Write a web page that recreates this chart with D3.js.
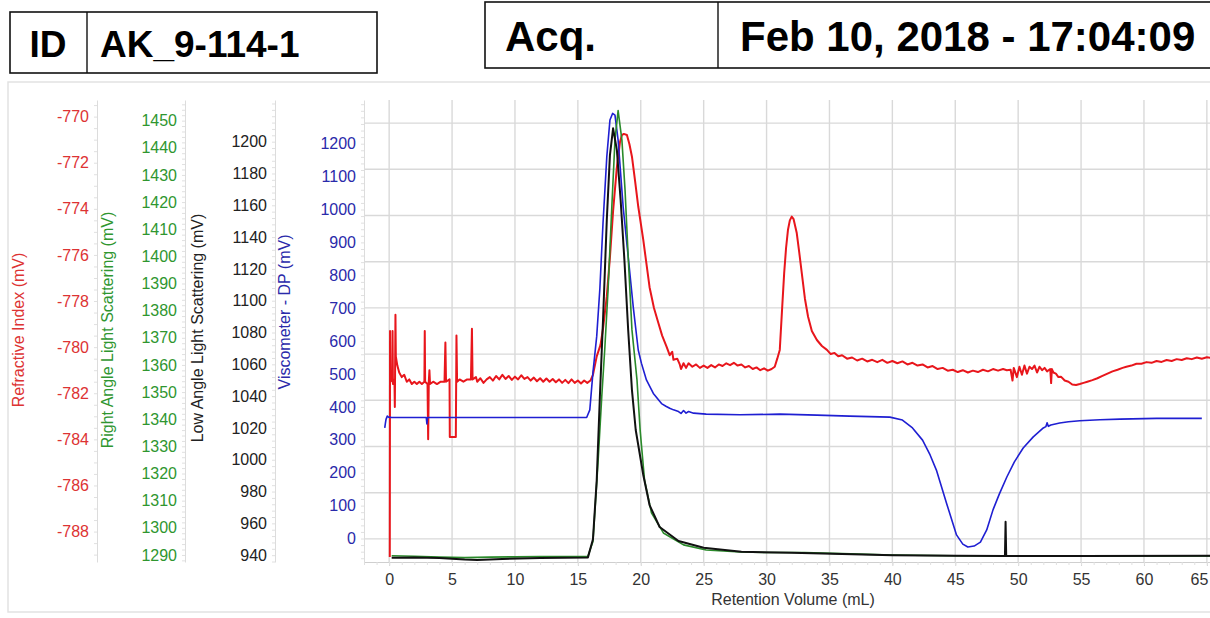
<!DOCTYPE html>
<html>
<head>
<meta charset="utf-8">
<script src="https://cdn.jsdelivr.net/npm/d3@7"></script>
<style>
body { margin: 0; background: #fff; }
svg { display: block; font-family: "Liberation Sans", Arial, sans-serif; }
</style>
</head>
<body>
<svg width="1210" height="618"></svg>
<script>
// header texts
var sampleId = "AK_9-114-1"
var acqDate = "Feb 10, 2018 - 17:04:09"

// tick labels for each axis
var xTicks = [0, 5, 10, 15, 20, 25, 30, 35, 40, 45, 50, 55, 60, 65]
var riTicks = [-788, -786, -784, -782, -780, -778, -776, -774, -772, -770]
var ralsTicks = [1290, 1300, 1310, 1320, 1330, 1340, 1350, 1360, 1370, 1380, 1390, 1400, 1410, 1420, 1430, 1440, 1450]
var lalsTicks = [940, 960, 980, 1000, 1020, 1040, 1060, 1080, 1100, 1120, 1140, 1160, 1180, 1200]
var viscTicks = [0, 100, 200, 300, 400, 500, 600, 700, 800, 900, 1000, 1100, 1200]
var gridRows = [0.5, 1.5, 2.5, 3.5, 4.5, 5.5, 6.5, 7.5, 8.5, 9.5]

// refractive index (mV) vs retention volume (mL)
var riData = [
  [0.05,-789.1],[0.07,-779.3],[0.1,-781.4],[0.25,-781.5],[0.27,-779.3],[0.3,-781.6],[0.42,-781.4],[0.45,-782.6],
  [0.47,-781.2],[0.5,-778.6],[0.53,-780.4],[0.65,-780.8],[0.8,-781.1],[1.0,-781.3],[1.2,-781.2],[1.4,-781.5],
  [1.6,-781.4],[1.8,-781.6],[2.0,-781.5],[2.2,-781.6],[2.4,-781.5],[2.6,-781.6],[2.8,-781.5],[2.83,-779.3],
  [2.86,-781.5],[3.05,-781.6],[3.1,-784.0],[3.15,-781.5],[3.2,-781.0],[3.25,-781.6],[3.5,-781.5],[3.8,-781.6],
  [4.1,-781.5],[4.4,-781.5],[4.47,-779.8],[4.52,-781.5],[4.8,-781.4],[4.82,-783.9],[5.3,-783.9],[5.35,-779.5],
  [5.4,-781.5],[5.6,-781.4],[5.9,-781.5],[6.2,-781.4],[6.5,-781.4],[6.58,-779.2],[6.63,-781.4],[6.9,-781.3],
  [7.0,-781.5],[7.25,-781.35],[7.5,-781.55],[7.75,-781.4],[8.0,-781.3],[8.25,-781.45],[8.5,-781.25],[8.75,-781.4],
  [9.0,-781.2],[9.25,-781.38],[9.5,-781.25],[9.75,-781.42],[10.0,-781.28],[10.25,-781.4],[10.5,-781.22],[10.75,-781.38],
  [11.0,-781.3],[11.25,-781.45],[11.5,-781.32],[11.75,-781.48],[12.0,-781.35],[12.25,-781.5],[12.5,-781.36],[12.75,-781.5],
  [13.0,-781.38],[13.25,-781.52],[13.5,-781.4],[13.75,-781.55],[14.0,-781.42],[14.25,-781.56],[14.5,-781.4],[14.75,-781.55],
  [15.0,-781.45],[15.25,-781.58],[15.5,-781.45],[15.75,-781.55],[16.0,-781.45],[16.2,-781.2],[16.5,-780.4],[16.8,-779.9],
  [17.0,-779.2],[17.3,-777.8],[17.55,-776.1],[17.8,-774.1],[18.1,-772.2],[18.35,-771.1],[18.5,-770.8],[18.65,-770.75],
  [18.9,-770.8],[19.1,-771.2],[19.3,-771.74],[19.55,-772.8],[19.8,-773.9],[20.2,-775.35],[20.7,-777.4],[21.05,-778.3],
  [21.4,-778.95],[21.7,-779.5],[22.05,-779.98],[22.3,-780.35],[22.5,-780.2],[22.6,-780.55],[22.9,-780.5],[23.1,-780.75],
  [23.2,-780.95],[23.4,-780.7],[23.6,-780.9],[23.8,-780.7],[24.1,-780.85],[24.4,-780.75],[24.7,-780.9],[25.0,-780.8],
  [25.3,-780.9],[25.6,-780.78],[25.9,-780.88],[26.2,-780.75],[26.5,-780.82],[26.8,-780.7],[27.1,-780.78],[27.4,-780.68],
  [27.7,-780.8],[28.0,-780.75],[28.3,-780.88],[28.6,-780.82],[28.9,-780.95],[29.2,-780.88],[29.5,-781.0],[29.8,-780.92],
  [30.1,-781.02],[30.4,-780.95],[30.65,-780.85],[30.85,-780.5],[31.05,-780.12],[31.25,-778.2],[31.4,-776.79],[31.55,-775.7],
  [31.7,-774.92],[31.85,-774.5],[32.0,-774.34],[32.15,-774.45],[32.4,-775.05],[32.6,-775.9],[32.8,-776.79],[33.05,-777.9],
  [33.3,-778.68],[33.6,-779.3],[34.0,-779.69],[34.4,-779.95],[34.8,-780.12],[35.1,-780.3],[35.4,-780.25],[35.7,-780.4],
  [36.0,-780.35],[36.4,-780.5],[36.8,-780.45],[37.2,-780.58],[37.6,-780.5],[38.0,-780.62],[38.4,-780.55],[38.8,-780.65],
  [39.2,-780.55],[39.6,-780.68],[40.0,-780.6],[40.4,-780.7],[40.8,-780.62],[41.2,-780.75],[41.6,-780.68],[42.0,-780.8],
  [42.4,-780.75],[42.8,-780.88],[43.2,-780.82],[43.6,-780.95],[44.0,-780.9],[44.4,-781.02],[44.8,-780.98],[45.2,-781.08],
  [45.6,-781.0],[46.0,-781.1],[46.4,-781.02],[46.8,-781.08],[47.2,-780.98],[47.6,-781.05],[48.0,-780.95],[48.4,-781.02],
  [48.8,-780.95],[49.1,-781.0],[49.4,-780.98],[49.55,-781.45],[49.65,-780.9],[49.9,-781.3],[50.1,-780.85],[50.3,-781.2],
  [50.5,-780.8],[50.7,-781.15],[50.9,-780.85],[51.1,-780.95],[51.3,-780.8],[51.5,-781.1],[51.7,-780.85],[51.9,-781.0],
  [52.1,-780.9],[52.3,-781.05],[52.55,-780.95],[52.62,-781.56],[52.68,-780.95],[52.8,-781.1],[53.0,-781.15],[53.2,-781.3],
  [53.4,-781.28],[53.7,-781.45],[54.0,-781.5],[54.3,-781.62],[54.6,-781.64],[54.9,-781.6],[55.2,-781.55],[55.5,-781.5],
  [55.9,-781.43],[56.3,-781.35],[56.7,-781.25],[57.1,-781.15],[57.5,-781.05],[57.9,-780.98],[58.3,-780.9],[58.6,-780.85],
  [59.0,-780.8],[59.4,-780.72],[59.8,-780.72],[60.2,-780.65],[60.6,-780.68],[61.0,-780.6],[61.4,-780.64],[61.8,-780.56],
  [62.2,-780.6],[62.6,-780.52],[63.0,-780.56],[63.4,-780.48],[63.8,-780.52],[64.2,-780.45],[64.6,-780.5],[65.0,-780.44],
  [65.3,-780.46]
]

// viscometer DP (mV)
var viscData = [
  [-0.35,336],[-0.3,350],[-0.25,362],[-0.15,372],[-0.05,369],[0.2,368],[1,368],[2,368],[2.95,368],[3.0,348],[3.05,368],
  [5,368],[8,368],[11,368],[14,368],[15.7,368],[15.95,391],[16.2,505],[16.5,615],[16.75,760],[17.0,959],[17.3,1160],
  [17.55,1272],[17.76,1292],[17.95,1287],[18.2,1211],[18.6,1008],[19.0,857],[19.4,705],[19.8,573],[20.05,533],[20.45,482],
  [21.0,441],[21.65,410],[22.0,402],[22.3,396],[22.6,391],[23.0,386],[23.2,380],[23.4,389],[23.6,381],[23.8,386],[24.2,381],
  [25.2,378],[27.9,376],[31.05,378],[34,375],[36.6,372],[39.8,369],[40.8,360],[41.6,336],[42.4,299],[43.0,254],[43.5,208],
  [44.3,108],[45.1,11],[45.6,-17],[46.0,-26],[46.5,-23],[47.0,-11],[47.5,26],[48.0,87],[48.5,135],[49.1,187],[49.7,233],
  [50.4,275],[51.2,309],[52.0,336],[52.2,340],[52.3,352],[52.4,341],[52.6,345],[53.3,351],[54.0,355],[54.9,358],[56.5,361],
  [58.1,363],[61,365],[64.6,365]
]

// right angle light scattering (mV)
var ralsData = [
  [0.2,1289.7],[2,1289.5],[4,1289.2],[6,1289.0],[8,1289.2],[10,1289.3],[12,1289.4],[14,1289.4],[15.8,1289.5],[16.2,1295],
  [16.6,1323.9],[16.9,1348.3],[17.15,1366.7],[17.4,1387.6],[17.7,1418.3],[17.95,1442.9],[18.2,1453.7],[18.5,1442.9],
  [18.75,1424.5],[19.0,1399.9],[19.3,1372.9],[19.7,1354.5],[19.95,1336],[20.3,1317.6],[20.85,1305.5],[21.8,1298.1],
  [23.4,1293.7],[25.2,1291.8],[27.9,1291.1],[30,1290.9],[33,1290.9],[36,1290.5],[40,1290.0],[45,1289.7],[50,1289.6],
  [55,1289.6],[60,1289.6],[65.3,1289.6]
]

// low angle light scattering (mV)
var lalsData = [
  [0.2,938.4],[2,938.6],[4,938.2],[6,937.2],[7,937.0],[9,937.6],[12,938.2],[15.8,938.6],[16.2,950],[16.5,987.2],
  [16.75,1039.6],[17.0,1087.9],[17.3,1150.8],[17.55,1191.6],[17.8,1208.4],[18.1,1194.8],[18.4,1163.3],[18.7,1125.6],
  [19.0,1081.6],[19.3,1043.8],[19.6,1018.7],[20.2,990.4],[20.7,971.5],[21.5,957.7],[23,948.9],[25,944.7],[28,942.1],
  [32,941.5],[36,940.7],[40,940.0],[45,939.6],[48.95,939.5],[49.0,961.0],[49.05,939.5],[55,939.5],[65.3,939.6]
]

var svg = d3.select("svg")
var top_ = 100, bottom = 562, left = 364, right = 1210
var fmt = function(d) { return String(d) } // plain hyphen for negatives

// frame round the chart area
svg.append("rect").attr("x", 8).attr("y", 82).attr("width", 1215).attr("height", 530)
    .attr("fill", "none").attr("stroke", "#e2e2e2").attr("stroke-width", 1.5)

// header boxes
svg.append("rect").attr("x", 10).attr("y", 12).attr("width", 367).attr("height", 61)
    .attr("fill", "none").attr("stroke", "#111").attr("stroke-width", 1.6)
svg.append("line").attr("x1", 87).attr("x2", 87).attr("y1", 12).attr("y2", 73).attr("stroke", "#111").attr("stroke-width", 1.4)
svg.append("text").attr("x", 48).attr("y", 57).attr("text-anchor", "middle")
    .style("font-size", "37px").style("font-weight", "bold").text("ID")
svg.append("text").attr("x", 100).attr("y", 57)
    .style("font-size", "37px").style("font-weight", "bold").text(sampleId)

svg.append("rect").attr("x", 485).attr("y", 2).attr("width", 760).attr("height", 66)
    .attr("fill", "none").attr("stroke", "#111").attr("stroke-width", 1.6)
svg.append("line").attr("x1", 718).attr("x2", 718).attr("y1", 2).attr("y2", 68).attr("stroke", "#111").attr("stroke-width", 1.4)
svg.append("text").attr("x", 505).attr("y", 51)
    .style("font-size", "42px").style("font-weight", "bold").text("Acq.")
svg.append("text").attr("x", 740).attr("y", 51)
    .style("font-size", "42px").style("font-weight", "bold").text(acqDate)

// scales
var x = d3.scaleLinear().domain([-2, 66]).range([left, left + 68 * 12.58])
var yRI = d3.scaleLinear().domain([-789.32, -769.28]).range([bottom, top_])
var yRALS = d3.scaleLinear().domain([1287.4, 1457.6]).range([bottom, top_])
var yLALS = d3.scaleLinear().domain([935.7, 1226.2]).range([bottom, top_])
var yVisc = d3.scaleLinear().domain([-71.4, 1332.8]).range([bottom, top_])
var yGrid = d3.scaleLinear().domain([0, 10]).range([bottom, top_])

// grid
var grid = svg.append("g").attr("stroke", "#d9d9d9").attr("stroke-width", 1.4)
grid.selectAll(".v").data(xTicks).enter().append("line")
    .attr("x1", function(d) { return x(d) }).attr("x2", function(d) { return x(d) })
    .attr("y1", top_).attr("y2", bottom)
grid.selectAll(".h").data(gridRows).enter().append("line")
    .attr("x1", left).attr("x2", right)
    .attr("y1", function(d) { return yGrid(d) }).attr("y2", function(d) { return yGrid(d) })

// x axis
var xAxis = svg.append("g").attr("transform", "translate(0," + bottom + ")")
    .call(d3.axisBottom(x).tickValues(xTicks).tickFormat(fmt).tickSize(4).tickPadding(8).tickSizeOuter(0))
xAxis.select(".domain").attr("stroke", "#cfcfcf")
xAxis.selectAll(".tick line").attr("stroke", "#d5d5d5")
xAxis.selectAll("text").style("font-size", "16px").attr("fill", "#333")
// last label sits at the page edge, keep it inside
xAxis.selectAll("text").filter(function(d) { return d === 65 })
    .attr("text-anchor", "end").attr("x", 1)
svg.append("g").attr("transform", "translate(0," + bottom + ")")
    .call(d3.axisBottom(x).tickValues(d3.range(-2, 66, 1)).tickSize(3).tickFormat("").tickSizeOuter(0))
    .call(function(g) { g.select(".domain").remove(); g.selectAll("line").attr("stroke", "#e0e0e0") })
svg.append("text").attr("x", 793).attr("y", 605).attr("text-anchor", "middle")
    .style("font-size", "16px").attr("fill", "#333").text("Retention Volume (mL)")

// y axes
function yAxis(scale, ticks, minorStep, xPos, color, title, titleX, titleY) {
    var g = svg.append("g").attr("transform", "translate(" + xPos + ",0)")
    g.call(d3.axisLeft(scale).tickValues(ticks).tickFormat(fmt).tickSize(0).tickPadding(8).tickSizeOuter(0))
    g.select(".domain").attr("stroke", "#dcdcdc")
    g.selectAll("text").style("font-size", "16px").attr("fill", color)
    var d = scale.domain()
    svg.append("g").attr("transform", "translate(" + xPos + ",0)")
        .call(d3.axisLeft(scale).tickValues(d3.range(Math.ceil(d[0] / minorStep) * minorStep, d[1], minorStep))
            .tickSize(3).tickFormat("").tickSizeOuter(0))
        .call(function(m) { m.select(".domain").remove(); m.selectAll("line").attr("stroke", "#e0e0e0") })
    svg.append("text").attr("transform", "translate(" + titleX + "," + titleY + ") rotate(-90)")
        .attr("text-anchor", "middle").attr("dy", "0.35em")
        .style("font-size", "16px").attr("fill", color).text(title)
}
yAxis(yRI, riTicks, 0.5, 97, "#dd3333", "Refractive Index (mV)", 18, 330)
yAxis(yRALS, ralsTicks, 2, 185, "#2f962f", "Right Angle Light Scattering (mV)", 107, 330)
yAxis(yLALS, lalsTicks, 4, 275, "#222", "Low Angle Light Scattering (mV)", 197, 328)
yAxis(yVisc, viscTicks, 20, left, "#2a2aaa", "Viscometer - DP (mV)", 284, 312)

// traces
svg.append("clipPath").attr("id", "plotclip").append("rect")
    .attr("x", left).attr("y", top_).attr("width", right - left).attr("height", bottom - top_)
var traces = svg.append("g").attr("clip-path", "url(#plotclip)").attr("fill", "none")
    .attr("stroke-linejoin", "round")

function trace(data, scale, color, width) {
    var line = d3.line().x(function(d) { return x(d[0]) }).y(function(d) { return scale(d[1]) })
    traces.append("path").datum(data).attr("d", line).attr("stroke", color).attr("stroke-width", width)
}
trace(riData, yRI, "#e8161c", 2)
trace(viscData, yVisc, "#1f1fd2", 1.6)
trace(ralsData, yRALS, "#2a8a2a", 1.6)
trace(lalsData, yLALS, "#111", 2)
</script>
</body>
</html>
